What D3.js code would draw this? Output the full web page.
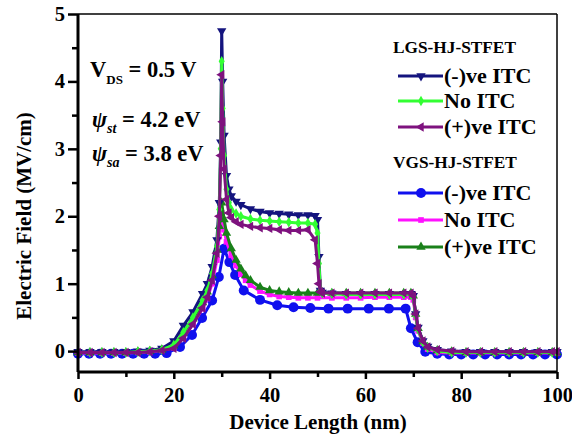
<!DOCTYPE html>
<html>
<head>
<meta charset="UTF-8">
<title>Electric Field</title>
<script src="https://d3js.org/d3.v7.min.js"></script>
<style>
  body { margin: 0; background: #fff; }
</style>
</head>
<body>
<div id="chart"></div>
<script>
// x grids (nm)
var xLgs = [0,2.5,5,7.5,10,12.5,15,17.5,20,22,24,26,27,28,29,29.5,29.8,30,30.2,30.5,31,31.5,32,33,34,36,38,40,42,44,46,48,49.5,50,50.3,50.6,51,53,56,59,62,65,68,69.5,70,70.5,71,72,73,75,78,81,84,87,90,93,96,99,100];
var xVgs = [0,2.5,5,7.5,10,12.5,15,17.5,20,22,24,26,27,28,29,29.5,30,30.5,31,32,33,34,35,36,38,40,42,44,46,48,50,53,56,59,62,65,68,69.5,70,70.5,71,72,73,75,78,81,84,87,90,93,96,99,100];
var xVgsNeg = [0,2.3,4.6,6.9,9.2,11.5,13.8,16.1,18.5,21.3,23.8,25.9,28,29.4,30.5,31.6,32.8,34.6,38,41.6,45,48.5,52.3,56.3,60.7,64.9,68.4,69.5,70.9,72.5,75,77.5,80,82.5,85,87.5,90,92.5,95,97.5,100];

// electric field (MV/cm)
var lgsNeg = [-0.01,-0.01,-0.01,-0.01,-0.01,0,0.01,0.04, 0.15,0.38,0.58,0.85,1.0,1.25,1.65,2.2,3.1, 4.75,4.0,3.2,2.6,2.4,2.3,2.22,2.17, 2.11,2.07,2.05,2.04,2.03,2.02,2.02,2.01, 1.95,1.4,0.9,0.87,0.86,0.85,0.85,0.85, 0.85,0.85,0.85,0.82,0.55,0.35,0.15,0.07, 0.02,0,-0.01,-0.01,-0.01,-0.01,-0.01,-0.01,-0.01,-0.01];
var lgsNo = [-0.02,-0.02,-0.02,-0.02,-0.02,-0.01,0,0.02, 0.09,0.28,0.5,0.75,0.9,1.15,1.55,2.1,3.0, 4.3,3.6,2.9,2.4,2.2,2.1,2.04,2.0, 1.96,1.94,1.93,1.92,1.91,1.9,1.9,1.88, 1.75,1.3,0.9,0.86,0.85,0.84,0.84,0.84, 0.84,0.84,0.84,0.8,0.52,0.32,0.13,0.05, 0,-0.02,-0.02,-0.02,-0.02,-0.02,-0.02,-0.02,-0.02,-0.02];
var lgsPos = [-0.02,-0.02,-0.02,-0.02,-0.02,-0.02,-0.01,0.01, 0.04,0.19,0.4,0.64,0.8,1.05,1.45,2.0,2.9, 4.1,3.4,2.7,2.25,2.05,1.98,1.92,1.88, 1.85,1.83,1.82,1.8,1.79,1.79,1.8,1.65, 1.3,1.0,0.88,0.86,0.86,0.86,0.86,0.86, 0.86,0.86,0.86,0.82,0.55,0.34,0.15,0.06, 0.02,0,-0.01,-0.01,-0.01,-0.01,-0.01,-0.01,-0.01,-0.01];
var vgsNeg = [-0.04,-0.04,-0.04,-0.04,-0.04,-0.04,-0.04,-0.04, -0.03,0.06,0.24,0.49,0.75,1.1,1.52,1.32,1.13,0.9,0.76,0.68,0.65,0.64,0.63,0.63,0.63,0.63,0.63, 0.34,0.13,-0.01,-0.04, -0.05,-0.05,-0.05,-0.05,-0.05,-0.05,-0.05,-0.05,-0.05,-0.05];
var vgsNo = [-0.03,-0.03,-0.03,-0.03,-0.03,-0.02,-0.01,0.01, 0.05,0.2,0.4,0.63,0.78,1.0,1.35,1.7, 2.05,1.8,1.62,1.42,1.27,1.14,1.05,0.98, 0.89,0.84,0.81,0.8,0.79,0.79,0.79,0.79, 0.79,0.79,0.8,0.8,0.8,0.8,0.76,0.5, 0.3,0.12,0.03,-0.02,-0.03,-0.03,-0.03,-0.03, -0.03,-0.03,-0.03,-0.03,-0.03];
var vgsPos = [-0.02,-0.02,-0.02,-0.02,-0.02,-0.01,0,0.02, 0.08,0.27,0.48,0.72,0.88,1.12,1.5,1.85, 2.2,1.95,1.75,1.52,1.35,1.22,1.12,1.05, 0.95,0.9,0.88,0.87,0.86,0.86,0.86,0.86, 0.86,0.86,0.86,0.86,0.86,0.86,0.82,0.55, 0.34,0.14,0.06,0.01,-0.01,-0.02,-0.02,-0.02, -0.02,-0.02,-0.02,-0.02,-0.02];

var legendNames = ["(-)ve ITC", "No ITC", "(+)ve ITC"];
var groupTitles = ["LGS-HJ-STFET", "VGS-HJ-STFET"];
var xTicks = [0, 20, 40, 60, 80, 100];
var yTicks = [0, 1, 2, 3, 4, 5];

var FONT = "'Liberation Serif', 'Times New Roman', 'DejaVu Serif', serif";
var W = 572, H = 440;
var svg = d3.select("#chart").append("svg").attr("width", W).attr("height", H);

var x = d3.scaleLinear().domain([0, 100]).range([78, 557]);
var y = d3.scaleLinear().domain([-0.31, 5]).range([372, 14]);

// draw order: VGS under LGS
var series = [
  {xs: xVgsNeg, ys: vgsNeg, color: "#1010ee", sym: d3.symbolCircle, size: 78, rot: 0},
  {xs: xVgs, ys: vgsNo, color: "#ff10ff", sym: d3.symbolSquare, size: 32, rot: 0},
  {xs: xVgs, ys: vgsPos, color: "#1a801a", sym: d3.symbolTriangle, size: 38, rot: 0},
  {xs: xLgs, ys: lgsNeg, color: "#14147e", sym: d3.symbolTriangle, size: 38, rot: 180},
  {xs: xLgs, ys: lgsNo, color: "#33ff33", sym: d3.symbolDiamond, size: 32, rot: 0},
  {xs: xLgs, ys: lgsPos, color: "#7e127e", sym: d3.symbolTriangle, size: 38, rot: -90}
];

var line = d3.line().x(function(d){ return x(d[0]); }).y(function(d){ return y(d[1]); });

var plot = svg.append("g");
series.forEach(function(s) {
  var pts = s.xs.map(function(v, i){ return [v, s.ys[i]]; });
  plot.append("path").datum(pts)
    .attr("d", line)
    .attr("fill", "none")
    .attr("stroke", s.color)
    .attr("stroke-width", 3);
  plot.selectAll(null).data(pts).enter().append("path")
    .attr("d", d3.symbol().type(s.sym).size(s.size)())
    .attr("transform", function(d){ return "translate(" + x(d[0]) + "," + y(d[1]) + ") rotate(" + s.rot + ")"; })
    .attr("fill", s.color);
});

// frame
svg.append("line").attr("x1", 78).attr("x2", 557).attr("y1", 14).attr("y2", 14).attr("stroke", "#000").attr("stroke-width", 1.5);
svg.append("line").attr("x1", 557).attr("x2", 557).attr("y1", 14).attr("y2", 372).attr("stroke", "#000").attr("stroke-width", 1.5);

// axes
var xAxis = svg.append("g").attr("transform", "translate(0,372)")
  .call(d3.axisBottom(x).tickValues(xTicks).tickSize(7).tickPadding(8).tickFormat(d3.format("d")));
svg.append("g").attr("transform", "translate(0,372)")
  .call(d3.axisBottom(x).tickValues([10,30,50,70,90]).tickSize(5).tickFormat(""))
  .select(".domain").remove();
var yAxis = svg.append("g").attr("transform", "translate(78,0)")
  .call(d3.axisLeft(y).tickValues(yTicks).tickSize(10).tickPadding(3).tickFormat(d3.format("d")));
svg.append("g").attr("transform", "translate(78,0)")
  .call(d3.axisLeft(y).tickValues([0.5,1.5,2.5,3.5,4.5]).tickSize(6).tickFormat(""))
  .select(".domain").remove();

svg.selectAll(".domain").attr("stroke-width", 3).attr("stroke", "#000");
svg.selectAll(".tick line").attr("stroke-width", 2.5).attr("stroke", "#000");
svg.selectAll(".tick text").attr("font-size", 20.5).attr("fill", "#000");
xAxis.selectAll(".domain").attr("d", "M78,0H557");
yAxis.selectAll(".domain").attr("d", "M0,372V14");

// axis titles
svg.append("text").attr("x", 318).attr("y", 429).attr("text-anchor", "middle")
  .attr("font-size", 21).text("Device Length (nm)");
svg.append("text").attr("transform", "translate(31,216) rotate(-90)").attr("text-anchor", "middle")
  .attr("font-size", 21).text("Electric Field (MV/cm)");

// annotations
var t1 = svg.append("text").attr("x", 90).attr("y", 77).attr("font-size", 22.5);
t1.append("tspan").text("V");
t1.append("tspan").attr("font-size", 13).attr("dy", 7).text("DS");
t1.append("tspan").attr("dy", -7).text(" = 0.5 V");

function psi(yPos, sub, val) {
  var t = svg.append("text").attr("x", 92).attr("y", yPos).attr("font-size", 22.5);
  t.append("tspan").attr("font-style", "italic").text("\u03C8");
  t.append("tspan").attr("font-style", "italic").attr("font-size", 14).attr("dy", 6).text(sub);
  t.append("tspan").attr("dy", -6).text(" = " + val);
}
psi(127, "st", "4.2 eV");
psi(161, "sa", "3.8 eV");

// legend
var lg = svg.append("g");
var titleY = [53, 168];
var entryY = [[76, 101, 127], [193, 220, 247]];
groupTitles.forEach(function(title, gi) {
  lg.append("text").attr("x", 393).attr("y", titleY[gi]).attr("font-size", 17.3).text(title);
  legendNames.forEach(function(name, i) {
    var s = gi === 0 ? series[3 + i] : series[i];
    var yy = entryY[gi][i];
    lg.append("line").attr("x1", 398).attr("x2", 443).attr("y1", yy).attr("y2", yy)
      .attr("stroke", s.color).attr("stroke-width", 3);
    lg.append("path").attr("d", d3.symbol().type(s.sym).size(s.size)())
      .attr("transform", "translate(421," + yy + ") rotate(" + s.rot + ")")
      .attr("fill", s.color);
    lg.append("text").attr("x", 444).attr("y", yy + 7).attr("font-size", 22).text(name);
  });
});

// serif bold everywhere
svg.selectAll("text")
  .attr("font-family", FONT)
  .style("font-family", FONT)
  .attr("font-weight", "bold")
  .attr("fill", "#000");
</script>
</body>
</html>
